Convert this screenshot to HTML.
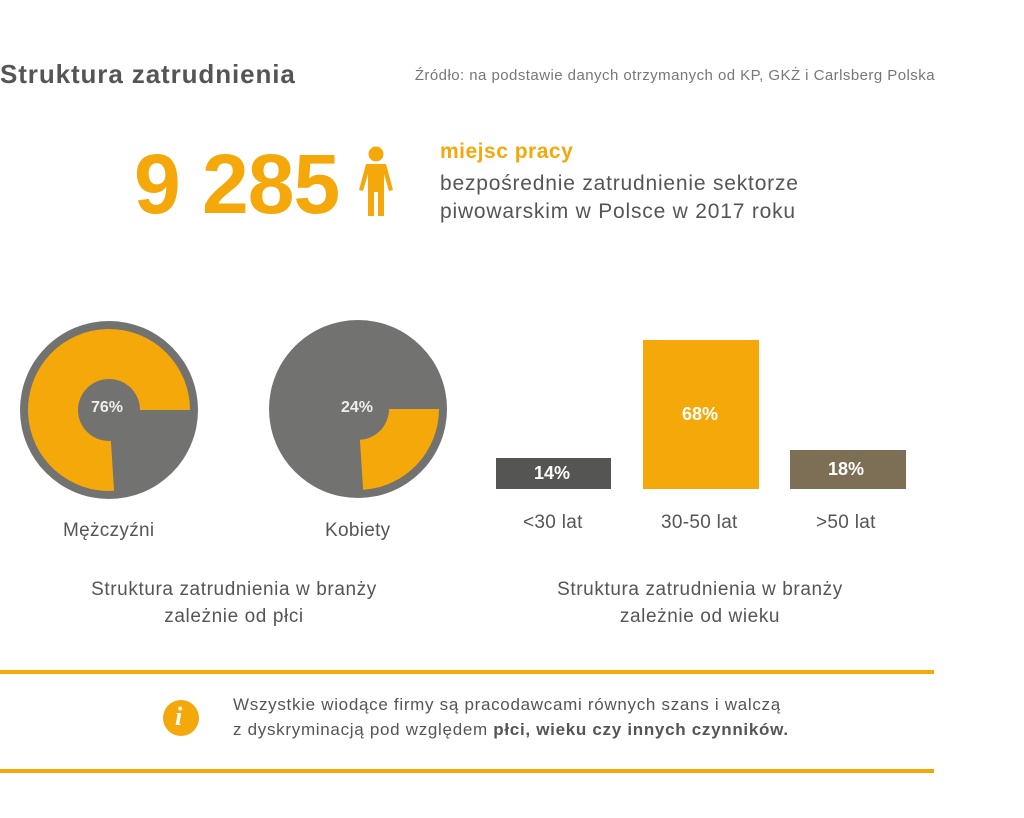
<!DOCTYPE html>
<html><head><meta charset="utf-8"><style>
body{margin:0;width:1024px;height:818px;background:#fff;font-family:"Liberation Sans",sans-serif;position:relative;overflow:hidden}
.a{position:absolute;white-space:nowrap}
</style></head><body>
<div class="a" style="left:0;top:59px;font-size:26px;font-weight:bold;color:#555;letter-spacing:0.9px">Struktura zatrudnienia</div>
<div class="a" style="right:89px;top:67px;font-size:15px;color:#777;letter-spacing:0.45px">Źródło: na podstawie danych otrzymanych od KP, GKŻ i Carlsberg Polska</div>
<div class="a" style="left:134px;top:136px;font-size:84px;font-weight:bold;color:#f5a80a;letter-spacing:-1px">9 285</div>
<svg class="a" style="left:358px;top:146px" width="36" height="72" viewBox="0 0 36 72">
<circle cx="18" cy="8" r="7.5" fill="#f5a80a"/>
<path d="M8 18 H28 L35 44 L31 45 L26 28 V70 H20 V46 H16 V70 H10 V28 L5 45 L1 44 Z" fill="#f5a80a"/>
</svg>
<div class="a" style="left:440px;top:140px;font-size:21px;font-weight:bold;color:#f5a80a;letter-spacing:0.5px">miejsc pracy</div>
<div class="a" style="left:440px;top:170px;font-size:21px;color:#555;line-height:28px;letter-spacing:0.8px">bezpośrednie zatrudnienie sektorze<br>piwowarskim w Polsce w 2017 roku</div>
<svg class="a" style="left:0;top:0" width="1024" height="818">
<circle cx="109" cy="410" r="89" fill="#727270"/>
<path d="M190 410 A81 81 0 1 0 114.1 490.8 L110.9 440.9 A31 31 0 1 1 140 410 Z" fill="#f5a80a"/>
<circle cx="358" cy="409" r="89" fill="#727270"/>
<path d="M439 409 A81 81 0 0 1 363.1 489.8 L359.9 439.9 A31 31 0 0 0 389 409 Z" fill="#f5a80a"/>
<rect x="496" y="458" width="115" height="31" fill="#555554"/>
<rect x="643" y="340" width="116" height="149" fill="#f5a80a"/>
<rect x="790" y="450" width="116" height="39" fill="#7d6f56"/>
<rect x="0" y="670" width="934" height="4" fill="#f5a80a"/>
<rect x="0" y="769" width="934" height="4" fill="#f5a80a"/>
<circle cx="181" cy="718" r="18" fill="#f5a80a"/>
</svg>
<div class="a" style="left:91px;top:399px;font-size:16px;font-weight:bold;color:#eee">76%</div>
<div class="a" style="left:341px;top:399px;font-size:16px;font-weight:bold;color:#eee">24%</div>
<div class="a" style="left:534px;top:463px;font-size:18px;font-weight:bold;color:#fff">14%</div>
<div class="a" style="left:682px;top:404px;font-size:18px;font-weight:bold;color:#fff">68%</div>
<div class="a" style="left:828px;top:459px;font-size:18px;font-weight:bold;color:#fff">18%</div>
<div class="a" style="left:63px;top:520px;font-size:19px;color:#555;letter-spacing:0.3px">Mężczyźni</div>
<div class="a" style="left:325px;top:520px;font-size:19px;color:#555;letter-spacing:0.3px">Kobiety</div>
<div class="a" style="left:523px;top:512px;font-size:19px;color:#555;letter-spacing:0.3px">&lt;30 lat</div>
<div class="a" style="left:661px;top:512px;font-size:19px;color:#555;letter-spacing:0.3px">30-50 lat</div>
<div class="a" style="left:816px;top:512px;font-size:19px;color:#555;letter-spacing:0.3px">&gt;50 lat</div>
<div class="a" style="left:234px;top:576px;width:0;font-size:19px;color:#555;line-height:27px;text-align:center;letter-spacing:0.6px"><div style="width:400px;margin-left:-200px">Struktura zatrudnienia w branży<br>zależnie od płci</div></div>
<div class="a" style="left:700px;top:576px;width:0;font-size:19px;color:#555;line-height:27px;text-align:center;letter-spacing:0.6px"><div style="width:400px;margin-left:-200px">Struktura zatrudnienia w branży<br>zależnie od wieku</div></div>
<div class="a" style="left:175px;top:702px;font-size:26px;font-style:italic;font-weight:bold;color:#fff;font-family:'Liberation Serif',serif">i</div>
<div class="a" style="left:233px;top:692px;font-size:17px;color:#555;line-height:25px;letter-spacing:0.7px">Wszystkie wiodące firmy są pracodawcami równych szans i walczą<br>z dyskryminacją pod względem <b>płci, wieku czy innych czynników.</b></div>
</body></html>
